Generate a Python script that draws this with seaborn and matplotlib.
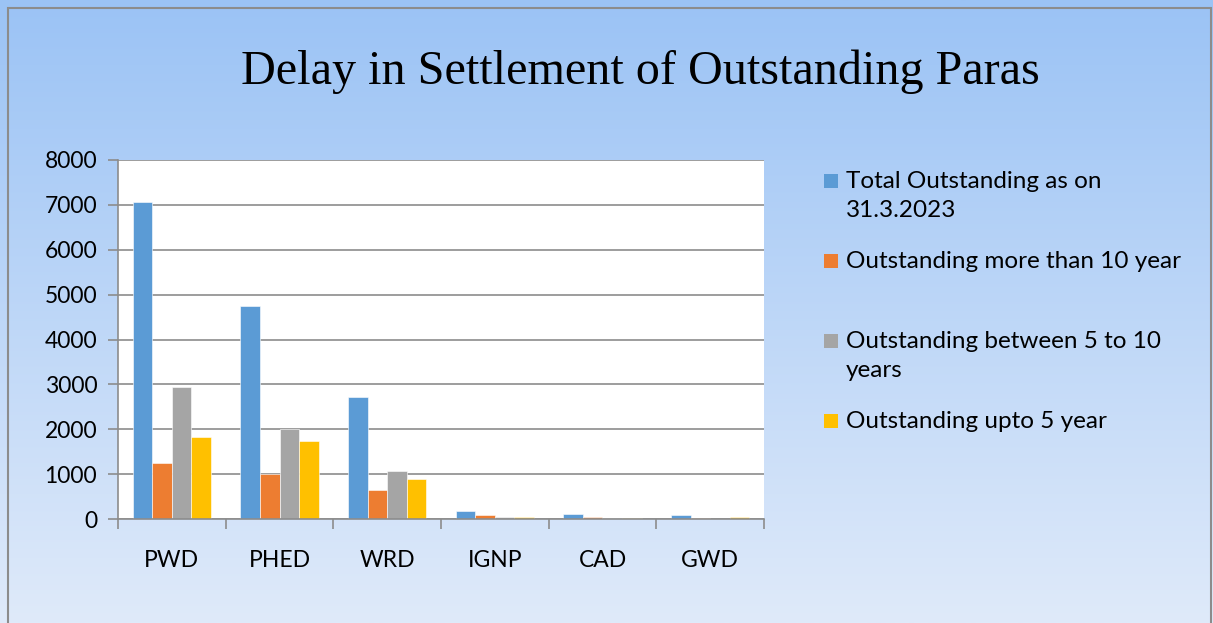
import matplotlib
matplotlib.use("Agg")
import matplotlib.pyplot as plt
import numpy as np
import pandas as pd
import seaborn as sns
from matplotlib.patches import Rectangle

departments = ["PWD", "PHED", "WRD", "IGNP", "CAD", "GWD"]
total_outstanding = [7060, 4745, 2715, 178, 110, 95]
more_than_10 = [1240, 1000, 645, 88, 52, 22]
between_5_10 = [2940, 1995, 1060, 45, 28, 8]
upto_5 = [1820, 1735, 890, 45, 32, 52]

series_names = [
    "Total Outstanding as on\n31.3.2023",
    "Outstanding more than 10 year",
    "Outstanding between 5 to 10\nyears",
    "Outstanding upto 5 year",
]
colors = ["#5B9BD5", "#ED7D31", "#A5A5A5", "#FFC000"]

df = pd.DataFrame(
    {
        "Department": departments * 4,
        "Series": np.repeat(series_names, len(departments)),
        "Value": total_outstanding + more_than_10 + between_5_10 + upto_5,
    }
)

sns.set_theme(style="white")
plt.rcParams["font.family"] = ["Lato", "DejaVu Sans"]
plt.rcParams["text.color"] = "black"
plt.rcParams["xtick.color"] = "black"
plt.rcParams["ytick.color"] = "black"

fig = plt.figure(figsize=(12.13, 6.23), dpi=100)

# gradient background
bg = fig.add_axes([0, 0, 1, 1], zorder=-10)
grad = np.linspace(0, 1, 256).reshape(-1, 1)
top = np.array([0x9B, 0xC3, 0xF5]) / 255
bottom = np.array([0xDF, 0xEA, 0xFA]) / 255
img = top + (bottom - top) * grad[:, :, None]
bg.imshow(img, aspect="auto", extent=[0, 1, 0, 1], origin="upper")
bg.add_patch(Rectangle((8 / 1213, -0.1), (1211 - 8) / 1213, 1.1 - 8 / 623,
                       fill=False, edgecolor="#8C8C8C", linewidth=1.5))
bg.set_xlim(0, 1)
bg.set_ylim(0, 1)
bg.axis("off")

ax = fig.add_axes([118 / 1213, 1 - 519 / 623, (764 - 118) / 1213, (519 - 160) / 623])
ax.set_facecolor("white")
sns.barplot(
    data=df,
    x="Department",
    y="Value",
    hue="Series",
    palette=colors,
    saturation=1,
    width=0.73,
    ax=ax,
    legend=False,
    edgecolor="white",
    linewidth=0.4,
)

ax.set_ylim(0, 8000)
ax.set_xlim(-0.5, len(departments) - 0.5)
ax.set_yticks(range(0, 8001, 1000))
ax.yaxis.grid(True, color="#8C8C8C", linewidth=1.2)
ax.set_axisbelow(True)
ax.set_xlabel("")
ax.set_ylabel("")
for side in ["top", "right"]:
    ax.spines[side].set_visible(False)
for side in ["left", "bottom"]:
    ax.spines[side].set_color("#8C8C8C")
    ax.spines[side].set_linewidth(1.2)

ax.tick_params(axis="y", which="major", length=7, color="#8C8C8C", width=1.2,
               labelsize=16.5, pad=8, left=True, labelcolor="black")
ax.tick_params(axis="x", which="major", length=0, labelsize=16.5, pad=22,
               labelcolor="black")
ax.set_xticks(np.arange(-0.5, len(departments), 1.0), minor=True)
ax.tick_params(axis="x", which="minor", length=7, color="#8C8C8C", width=1.2, bottom=True)

fig.text(0.528, 1 - 72 / 623, "Delay in Settlement of Outstanding Paras",
         family=["Liberation Serif"], fontsize=34.7, ha="center", va="center",
         color="black")

# legend
legend_y = [181, 261, 341, 421]
for name, color, y in zip(series_names, colors, legend_y):
    fig.patches.append(Rectangle((824 / 1213, 1 - (y + 7) / 623), 14 / 1213, 14 / 623,
                                 transform=fig.transFigure, facecolor=color,
                                 edgecolor="none"))
    fig.text(846 / 1213, 1 - (y - 10) / 623, name, fontsize=17.5, ha="left",
             va="top", linespacing=1.45, color="black")

fig.savefig("out.png", dpi=100)
